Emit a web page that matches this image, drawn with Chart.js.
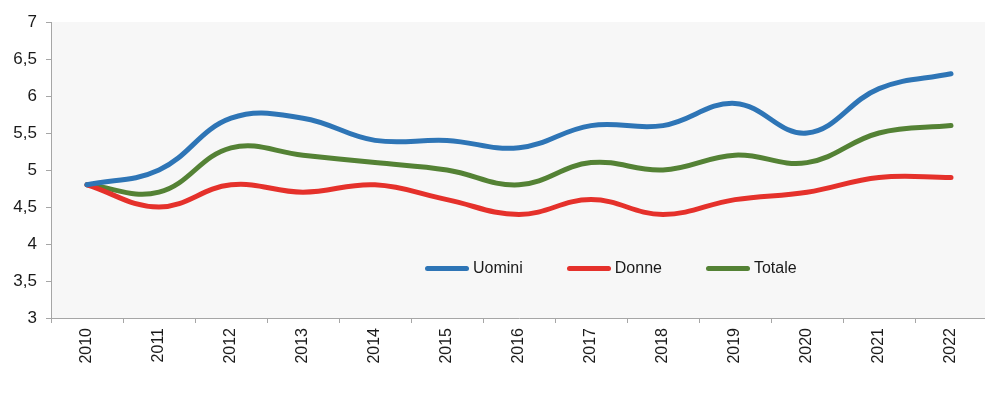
<!DOCTYPE html>
<html>
<head>
<meta charset="utf-8">
<script src="https://cdn.jsdelivr.net/npm/chart.js@4/dist/chart.umd.min.js"></script>
<style>
  html, body { margin: 0; padding: 0; background: #fff; overflow: hidden; }
  #wrap { position: relative; width: 987px; height: 395px; }
  #legend {
    position: absolute; top: 259px; left: 425px;
    display: flex; align-items: center;
    font-family: "Liberation Sans", Arial, sans-serif; font-size: 16px; color: #1a1a1a;
  }
  #legend .item { display: flex; align-items: center; margin-right: 44px; }
  #legend .swatch { width: 44px; height: 5px; border-radius: 3px; margin-right: 4px; }
</style>
</head>
<body>
<div id="wrap">
  <canvas id="myChart" width="987" height="395"></canvas>
  <div id="legend"></div>
</div>
<script>
var years = ['2010', '2011', '2012', '2013', '2014', '2015', '2016', '2017', '2018', '2019', '2020', '2021', '2022'];
var uomini = [4.8, 5.0, 5.7, 5.7, 5.4, 5.4, 5.3, 5.6, 5.6, 5.9, 5.5, 6.1, 6.3];
var donne = [4.8, 4.5, 4.8, 4.7, 4.8, 4.6, 4.4, 4.6, 4.4, 4.6, 4.7, 4.9, 4.9];
var totale = [4.8, 4.7, 5.3, 5.2, 5.1, 5.0, 4.8, 5.1, 5.0, 5.2, 5.1, 5.5, 5.6];

var seriesNames = ['Uomini', 'Donne', 'Totale'];
var seriesColors = ['#2e75b6', '#e5312b', '#548235'];

var axisColor = '#a6a6a6';
var fontFamily = '"Liberation Sans", Arial, sans-serif';

// plot background like the original
var areaBg = {
    id: 'areaBg',
    beforeDraw: function (chart) {
        var a = chart.chartArea;
        var ctx = chart.ctx;
        ctx.save();
        ctx.fillStyle = '#f7f7f7';
        ctx.fillRect(a.left, a.top, a.right - a.left, a.bottom - a.top);
        ctx.restore();
    }
};

function makeSet(i, values) {
    return {
        label: seriesNames[i],
        data: values,
        borderColor: seriesColors[i],
        backgroundColor: seriesColors[i],
        borderWidth: 5,
        borderCapStyle: 'round',
        borderJoinStyle: 'round',
        tension: 0.4,
        pointRadius: 0,
        fill: false
    };
}

var ctx = document.getElementById('myChart').getContext('2d');
var myChart = new Chart(ctx, {
    type: 'line',
    data: {
        labels: years,
        datasets: [makeSet(0, uomini), makeSet(1, donne), makeSet(2, totale)]
    },
    options: {
        responsive: false,
        animation: false,
        layout: { padding: { top: 22, right: 0, bottom: 0, left: 0 } },
        plugins: {
            legend: { display: false },
            tooltip: { enabled: false }
        },
        scales: {
            x: {
                offset: true,
                grid: { drawOnChartArea: false, drawTicks: true, tickLength: 5, color: axisColor, offset: true },
                border: { color: axisColor, width: 1 },
                ticks: {
                    minRotation: 90, maxRotation: 90, autoSkip: false,
                    color: '#1a1a1a', font: { family: fontFamily, size: 16 }, padding: 5
                },
                afterFit: function (scale) { scale.height = 77; }
            },
            y: {
                min: 3, max: 7,
                grid: { drawOnChartArea: false, drawTicks: true, tickLength: 5, color: axisColor },
                border: { color: axisColor, width: 1 },
                ticks: {
                    stepSize: 0.5,
                    color: '#1a1a1a', font: { family: fontFamily, size: 17 }, padding: 9,
                    callback: function (v) { return String(v).replace('.', ','); }
                },
                afterFit: function (scale) { scale.width = 51; }
            }
        }
    },
    plugins: [areaBg]
});

// legend drawn as html over the plot
var legend = document.getElementById('legend');
myChart.data.datasets.forEach(function (ds) {
    var item = document.createElement('div');
    item.className = 'item';
    var sw = document.createElement('span');
    sw.className = 'swatch';
    sw.style.background = ds.borderColor;
    var txt = document.createElement('span');
    txt.textContent = ds.label;
    item.appendChild(sw);
    item.appendChild(txt);
    legend.appendChild(item);
});
</script>
</body>
</html>
